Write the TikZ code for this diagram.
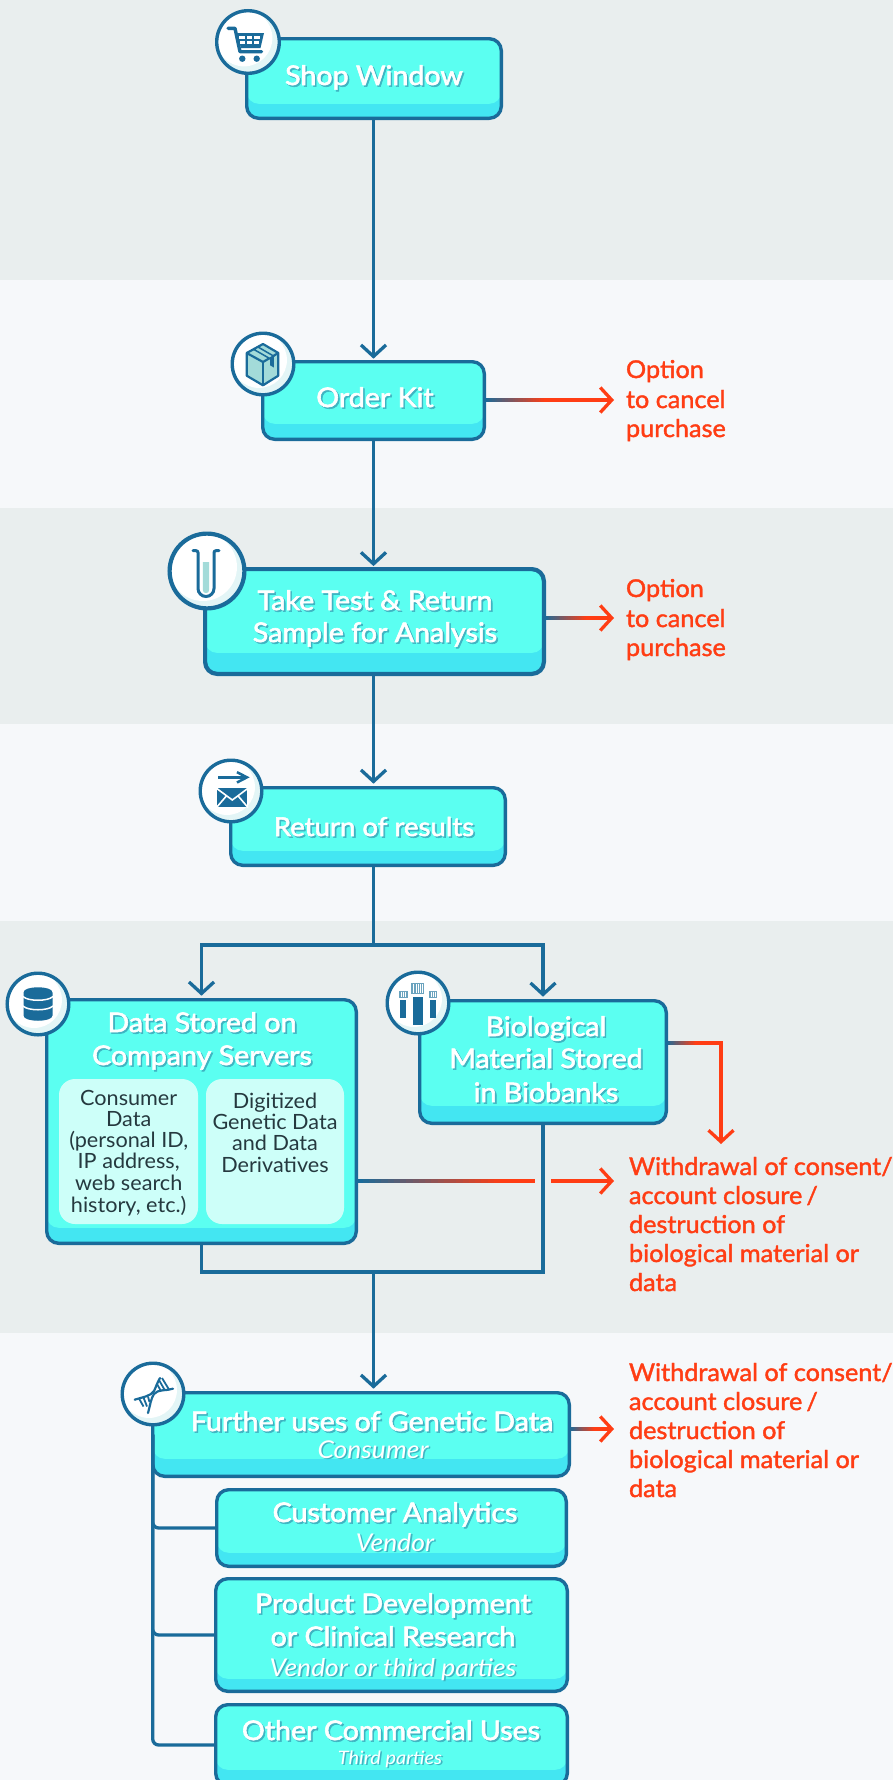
\documentclass[tikz,border=0pt]{standalone}
\usepackage{fontspec}
\setmainfont{Lato}
\newfontfamily\lmed[FakeBold=2.2,FakeStretch=1.06]{Lato}
\newfontfamily\lred[FakeBold=1.6,FakeStretch=1.03]{Lato}
\newfontfamily\lwid[FakeStretch=1.08]{Lato}
\newfontfamily\ldrk[FakeStretch=1.03]{Lato}
\usetikzlibrary{arrows.meta,calc}
\definecolor{lnc}{HTML}{1A6B9A}
\definecolor{redc}{HTML}{FF3D14}
\definecolor{banda}{HTML}{E9EEEE}
\definecolor{bandb}{HTML}{F6F8FA}
\definecolor{boxtop}{HTML}{5BFFF1}
\definecolor{boxbot}{HTML}{43E6F2}
\definecolor{innerc}{HTML}{CDFFF9}
\definecolor{darktx}{HTML}{25393F}
\definecolor{shad}{HTML}{3FB4C2}
\definecolor{paleic}{HTML}{E3F5F6}
\definecolor{icfill}{HTML}{A3DBD9}
\definecolor{capc}{HTML}{6BA3BE}
\newcommand\ctr[3]{\pgfmathsetmacro\dxx{2*(#1-\cxx)}\pgfmathsetmacro\dyy{\cyy-#2}\raisebox{\dyy pt}[0pt][0pt]{\makebox[0pt][c]{\kern\dxx pt\relax #3}}}
\newcommand\lft[3]{\pgfmathsetmacro\dxx{#1-\cxx}\pgfmathsetmacro\dyy{\cyy-#2}\raisebox{\dyy pt}[0pt][0pt]{\makebox[0pt][l]{\kern\dxx pt\relax #3}}}
\newcommand\sh[1]{\rlap{\kern1.6pt\raisebox{-1.6pt}{\textcolor{shad}{#1}}}\textcolor{white}{#1}}
\newcommand\ts[2]{{\fontsize{#1}{#1}\selectfont\lmed\sh{#2}}}
\newcommand\tsi[2]{{\fontsize{#1}{#1}\selectfont\lwid\itshape\sh{#2}}}
\newcommand\dk[1]{{\fontsize{21}{21}\selectfont\ldrk\textcolor{darktx}{#1}}}
\newcommand\rd[1]{{\fontsize{24.5}{24.5}\selectfont\lred\textcolor{redc}{#1}}}
\newcommand\bx[8]{\pgfmathsetmacro\cxx{(#2+#4)/2}\pgfmathsetmacro\cyy{(#3+#5)/2}\node[boxn,line width=#7pt,minimum width={(#4-#2-#7)*1pt},minimum height={(#5-#3-#7)*1pt},path picture={\fill[boxtop,rounded corners=12pt] ([yshift=20pt]path picture bounding box.north west) rectangle ([yshift=#6pt]path picture bounding box.south east);}] (#1) at (\cxx,\cyy) {#8};}
\newcommand\ib[6]{\pgfmathsetmacro\cxx{(#2+#4)/2}\pgfmathsetmacro\cyy{(#3+#5)/2}\node[fill=innerc,rounded corners=16pt,inner sep=0pt,outer sep=0pt,minimum width={(#4-#2)*1pt},minimum height={(#5-#3)*1pt}] (#1) at (\cxx,\cyy) {#6};}
\newcommand\tb[6]{\pgfmathsetmacro\cxx{(#2+#4)/2}\pgfmathsetmacro\cyy{(#3+#5)/2}\node[inner sep=0pt,outer sep=0pt,minimum width={(#4-#2)*1pt},minimum height={(#5-#3)*1pt}] (#1) at (\cxx,\cyy) {#6};}
\newcommand\ic[5]{\node[circle,draw=lnc,fill=paleic,line width=#5pt,inner sep=0pt,outer sep=0pt,minimum size={(2*#4-#5)*1pt},path picture={\fill[white] ([shift={(-4pt,4pt)}]path picture bounding box.center) circle ({#4*0.86});}] (#1) at (#2,#3) {};}
\newcommand\grd[2]{\foreach \i in {0,...,23}{\pgfmathsetmacro\pc{\i*100/23}\fill[redc!\pc!lnc] ($(#1)+({\i*#2/24},-1.65)$) rectangle ++({#2/24+0.3},3.3);}}
\tikzset{
  boxn/.style={draw=lnc,fill=boxbot,rounded corners=12pt,inner sep=0pt,outer sep=0pt},
  conn/.style={draw=lnc,line width=3.3pt},
  rconn/.style={draw=redc,line width=3.3pt},
  tipb/.style={-{Straight Barb[length=11.5pt,width=25pt,line width=3.3pt]}},
  icl/.style={draw=lnc,line width=2.2pt},
  icf/.style={fill=lnc}
}
\begin{document}
\begin{tikzpicture}[x=1pt,y=-1pt]
\useasboundingbox (0,0) rectangle (893,1780);
\clip (0,0) rectangle (893,1780);
% bands
\fill[banda] (0,0) rectangle (893,280);
\fill[bandb] (0,280) rectangle (893,508);
\fill[banda] (0,508) rectangle (893,724);
\fill[bandb] (0,724) rectangle (893,921);
\fill[banda] (0,921) rectangle (893,1333);
\fill[bandb] (0,1333) rectangle (893,1780);
% boxes
\bx{shop}{245}{37}{503}{120}{14.5}{3.4}{\ctr{374}{85}{\ts{27}{Shop Window}}}
\bx{order}{261}{360}{486}{441}{15.5}{3.4}{\ctr{375}{407}{\ts{27}{Order Kit}}}
\bx{take}{203}{567}{546}{676}{21}{4.2}{\ctr{375}{610}{\ts{27}{Take Test \& Return}}\ctr{375}{642}{\ts{27}{Sample for Analysis}}}
\bx{ret}{229}{786}{507}{867}{14.5}{3.4}{\ctr{374}{836}{\ts{26}{Return of results}}}
\bx{data}{45}{998}{358}{1245}{15.5}{3.4}{\ctr{202}{1032}{\ts{27}{Data Stored on}}\ctr{202}{1065}{\ts{27}{Company Servers}}}
\ib{cons}{59}{1079}{198}{1224}{\ctr{128.7}{1105}{\dk{Consumer}}\ctr{128.7}{1126}{\dk{Data}}\ctr{128.7}{1147}{\dk{(personal ID,}}\ctr{128.7}{1168}{\dk{IP address,}}\ctr{128.7}{1190}{\dk{web search}}\ctr{128.7}{1212}{\dk{history, etc.)}}}
\ib{digi}{206}{1079}{344}{1224}{\ctr{275}{1108}{\dk{Digitized}}\ctr{275}{1129}{\dk{Genetic Data}}\ctr{275}{1150}{\dk{and Data}}\ctr{275}{1172}{\dk{Derivatives}}}
\bx{bio}{418}{999}{668}{1125}{17.5}{3.4}{\ctr{546}{1036}{\ts{27}{Biological}}\ctr{546}{1068}{\ts{27}{Material Stored}}\ctr{546}{1102}{\ts{27}{in Biobanks}}}
\bx{further}{151}{1391}{571}{1478}{17.5}{3.4}{\ctr{372}{1431}{\ts{27}{Further uses of Genetic Data}}\ctr{373}{1458}{\tsi{24.5}{Consumer}}}
\bx{cust}{215}{1488}{568}{1568}{13.5}{3.4}{\ctr{395}{1522}{\ts{27}{Customer Analytics}}\ctr{395}{1551}{\tsi{24.5}{Vendor}}}
\bx{prod}{214}{1577}{569}{1693}{12.5}{3.4}{\ctr{393}{1613}{\ts{27}{Product Development}}\ctr{393}{1646}{\ts{27}{or Clinical Research}}\ctr{393}{1676}{\tsi{24.5}{Vendor or third parties}}}
\bx{other}{214}{1703}{569}{1787}{15.5}{3.4}{\ctr{391}{1740}{\ts{27}{Other Commercial Uses}}\ctr{390}{1764}{\tsi{18.5}{Third parties}}}
% red texts
\tb{opt1}{626}{360}{730}{441}{\lft{626}{378}{\rd{Option}}\lft{626}{408}{\rd{to cancel}}\lft{626}{437}{\rd{purchase}}}
\tb{opt2}{626}{578}{730}{658}{\lft{626}{597}{\rd{Option}}\lft{626}{627}{\rd{to cancel}}\lft{626}{656}{\rd{purchase}}}
\tb{wd1}{629}{1150}{890}{1300}{\lft{629}{1175}{\rd{Withdrawal of consent/}}\lft{629}{1204}{\rd{account closure\,/}}\lft{629}{1233}{\rd{destruction of}}\lft{629}{1262}{\rd{biological material or}}\lft{629}{1291}{\rd{data}}}
\tb{wd2}{629}{1356}{890}{1502}{\lft{629}{1381}{\rd{Withdrawal of consent/}}\lft{629}{1410}{\rd{account closure\,/}}\lft{629}{1439}{\rd{destruction of}}\lft{629}{1468}{\rd{biological material or}}\lft{629}{1497}{\rd{data}}}
% connectors
\coordinate (br) at (373.5,945);
\coordinate (jn) at (373.5,1272);
\draw[conn,tipb,shorten >=3pt] (shop.south -| br) -- (br |- order.north);
\draw[conn,tipb,shorten >=3pt] (order.south -| br) -- (br |- take.north);
\draw[conn,tipb,shorten >=4pt] (take.south -| br) -- (br |- ret.north);
\draw[conn] (ret.south -| br) -- (br);
\draw[conn,tipb,shorten >=4pt] (br) -| (data.north);
\draw[conn,tipb,shorten >=4pt] (br) -| (bio.north);
\draw[conn] (data.south) |- (jn);
\draw[conn] (bio.south) |- (jn);
\draw[conn,tipb,shorten >=4pt] (jn) -- (further.north -| jn);
\draw[conn,rounded corners=6pt] (further.west) |- (cust.west);
\draw[conn,rounded corners=6pt] (further.west) |- (prod.west);
\draw[conn,rounded corners=6pt] (further.west) |- (other.west);
% red connectors
\coordinate (oa) at (614,400);
\coordinate (ob) at (614,618);
\coordinate (r1) at (535,1181);
\coordinate (r2) at (551,1181);
\coordinate (bt) at (721,1043);
\coordinate (fa) at (614,1429);
\draw[rconn,tipb,shorten >=12pt] (order.east |- oa) -- (opt1.west |- oa);
\draw[rconn,tipb,shorten >=12pt] (take.east |- ob) -- (opt2.west |- ob);
\draw[rconn] (data.east |- r1) -- (r1);
\draw[rconn,tipb,shorten >=15pt] (r2) -- (wd1.west |- r2);
\draw[rconn,tipb,shorten >=6pt,line join=miter] (bio.east |- bt) -- (bt) -- (bt |- wd1.north);
\draw[rconn,tipb,shorten >=15pt] (further.east |- fa) -- (wd2.west |- fa);
\grd{order.east |- oa}{62}
\grd{take.east |- ob}{44}
\grd{data.east |- r1}{150}
\grd{bio.east |- bt}{30}
\grd{further.east |- fa}{26}
% icon circles
\ic{c1}{248}{42}{33}{3.4}
\ic{c2}{263}{364}{32.5}{3.4}
\ic{c3}{207}{571}{39.5}{4.2}
\ic{c4}{231}{791}{32.5}{3.4}
\ic{c5}{38}{1004}{32.5}{3.4}
\ic{c6}{418}{1003}{32.5}{3.4}
\ic{c7}{153}{1394}{32.5}{3.4}
% cart
\begin{scope}[shift={(248,42)}]
\draw[lnc,line width=3.4pt,line cap=round,line join=round] (-20,-13.7) -- (-13,-13.7) -- (-8,9.7) -- (13.5,9.7);
\fill[lnc] (-11.8,-9) -- (16,-9) -- (12.5,6) -- (-7,6) -- cycle;
\fill[white] (-8.8,-6.3) rectangle (-3.3,-3.2);
\fill[white] (-1.3,-6.3) rectangle (4.4,-3.2);
\fill[white] (6.3,-6.3) rectangle (12.2,-3.2);
\fill[white] (-7.6,-1.2) rectangle (-3.3,2.4);
\fill[white] (-1.3,-1.2) rectangle (4.4,2.4);
\fill[white] (6.3,-1.2) rectangle (11.4,2.4);
\fill[lnc] (-5.7,16.7) circle (3.2);
\fill[lnc] (8.7,16.7) circle (3.2);
\end{scope}
% parcel
\begin{scope}[shift={(263,364)}]
\draw[icl,fill=icfill,line join=round] (0,-20) -- (15.3,-11) -- (15.3,11.7) -- (0,21.3) -- (-16.3,11.7) -- (-16.3,-11) -- cycle;
\draw[icl,line join=round] (-16.3,-11) -- (0,-2) -- (15.3,-11);
\draw[icl] (0,-2) -- (0,21.3);
\draw[line width=1.5pt,lnc,fill=icfill] (-5,-17) -- (10.5,-8) -- (6.5,-5.6) -- (-9,-14.5) -- cycle;
\fill[lnc] (10.8,-8.4) -- (10.8,3.5) -- (7,1.2) -- (7,-5.8) -- cycle;
\end{scope}
% tube
\begin{scope}[shift={(206,571)}]
\fill[icfill] (-3.2,-9) -- (3.2,-9) -- (3.2,19) arc (0:180:3.2) -- cycle;
\draw[lnc,line width=3pt,line cap=round] (-13,-20.3) -- (-10,-20.3) arc (-90:0:2) -- (-8,17.5) arc (180:0:8) -- (8,-18.3) arc (180:270:2) -- (13,-20.3);
\end{scope}
% envelope
\begin{scope}[shift={(231,791)}]
\draw[lnc,line width=2.5pt] (-12.7,-13.7) -- (15,-13.7);
\draw[lnc,line width=2.5pt] (6,-18.8) -- (16,-13.7) -- (6,-8.5);
\fill[lnc] (-13.7,-2.7) rectangle (16.3,15.7);
\draw[white,line width=1.6pt] (-14.5,-2.7) -- (1.3,9) -- (17,-2.7);
\draw[white,line width=1.6pt] (-14.5,16.5) -- (-4.5,4.8);
\draw[white,line width=1.6pt] (17,16.5) -- (7,4.8);
\end{scope}
% database
\begin{scope}[shift={(38,1004)}]
\fill[lnc] (-14.5,-11.5) .. controls (-14.5,-18.5) and (14.5,-18.5) .. (14.5,-11.5) -- (14.5,11.5) .. controls (14.5,18.5) and (-14.5,18.5) .. (-14.5,11.5) -- cycle;
\draw[white,line width=1.5pt] (-15,-7.5) .. controls (-10,-2.5) and (10,-2.5) .. (15,-7.5);
\draw[white,line width=1.5pt] (-15,2) .. controls (-10,7) and (10,7) .. (15,2);
\end{scope}
% biobank
\begin{scope}[shift={(418,1003)}]
\fill[capc] (-6.7,-20.3) rectangle (6.3,-9);
\fill[capc] (-19,-12.3) rectangle (-10.3,-5.3);
\fill[capc] (11,-12.3) rectangle (19.3,-5.3);
\foreach \xx in {-4.2,-2.1,0,2.1,4.2} \draw[white,line width=0.7pt] (\xx,-19) -- (\xx,-10.3);
\foreach \xx in {-16.5,-14.7,-12.9,13.2,15,16.8} \draw[white,line width=0.6pt] (\xx,-11.3) -- (\xx,-6.3);
\fill[lnc] (-4.7,-6.3) rectangle (4.7,22);
\fill[lnc] (-17.7,-3) rectangle (-11.7,14.7);
\fill[lnc] (12.3,-3) rectangle (18.3,14.7);
\end{scope}
% dna
\begin{scope}[shift={(153,1394)}]
\draw[lnc,line width=2.2pt,line cap=round] (-18.3,5.7) .. controls (-10,3) and (-2,2) .. (1,-3) .. controls (3,-7) and (4,-11) .. (7,-16);
\draw[lnc,line width=2.2pt,line cap=round] (-5,19) .. controls (-3,12) and (-2,4) .. (1,0) .. controls (5,-5) and (13,-3) .. (20,-5.3);
\draw[lnc,line width=1.8pt] (-14,4.5) -- (-9.5,12.5) (-9.5,3.5) -- (-6,12.5) (-5,2.5) -- (-3.5,8);
\draw[lnc,line width=1.8pt] (4,-10) -- (8,-3) (6,-14) -- (12,-3.5) (9,-16) -- (16,-4.5);
\end{scope}
\end{tikzpicture}
\end{document}
